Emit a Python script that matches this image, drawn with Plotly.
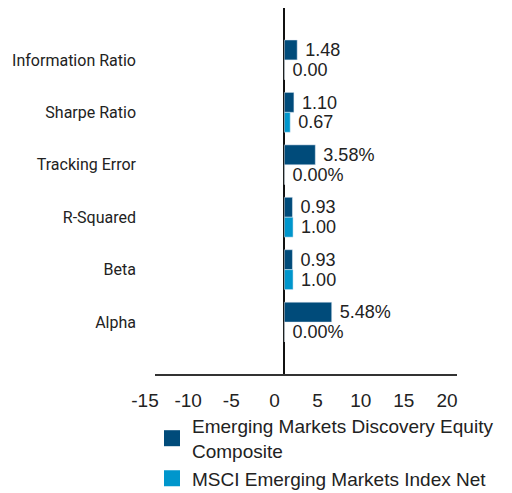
import plotly.graph_objects as go

categories = ["Information Ratio", "Sharpe Ratio", "Tracking Error", "R-Squared", "Beta", "Alpha"]
composite = [1.48, 1.10, 3.58, 0.93, 0.93, 5.48]
benchmark = [0.00, 0.67, 0.00, 1.00, 1.00, 0.00]
composite_text = ["1.48", "1.10", "3.58%", "0.93", "0.93", "5.48%"]
benchmark_text = ["0.00", "0.67", "0.00%", "1.00", "1.00", "0.00%"]
series_names = ["Emerging Markets Discovery Equity<br>Composite", "MSCI Emerging Markets Index Net"]
x_ticks = [-15, -10, -5, 0, 5, 10, 15, 20]

dark = "#004B7A"
light = "#0096CC"
font_family = "Liberation Sans, Arial, sans-serif"

# the page body has an 8px margin, so the figure is sized to fit the visible window
W, H = 504, 485

fig = go.Figure()
for vals, txt, col, name in [(composite, composite_text, dark, series_names[0]),
                              (benchmark, benchmark_text, light, series_names[1])]:
    fig.add_trace(go.Bar(
        y=categories, x=vals, orientation="h", marker_color=col,
        text=["\u00a0" + t for t in txt], textposition="outside", cliponaxis=False,
        textfont=dict(size=19, color="#222222", family=font_family),
        showlegend=False, name=name,
    ))
    fig.add_trace(go.Scatter(
        x=[None], y=[None], mode="markers", name=name,
        marker=dict(symbol="square", size=19, color=col),
    ))

fig.update_layout(
    width=W, height=H,
    margin=dict(l=147, r=55, t=0, b=119, autoexpand=False),
    paper_bgcolor="white", plot_bgcolor="white",
    barmode="group", bargap=0.24, bargroupgap=0,
    font=dict(family=font_family, color="#222222"),
    legend=dict(x=144 / W, y=1 - 399 / H, xref="container", yref="container",
                xanchor="left", yanchor="top",
                font=dict(size=19, family=font_family, color="#222222"),
                itemsizing="trace", tracegroupgap=0),
)
fig.update_xaxes(
    range=[-15, 20], tickvals=x_ticks, ticktext=[str(v) for v in x_ticks],
    showgrid=False, zeroline=True, zerolinecolor="#111111", zerolinewidth=1.5,
    showline=True, linecolor="#333333", linewidth=2, automargin=False,
    tickfont=dict(size=19, family=font_family, color="#222222"),
    ticklabelshift=-10, ticklabelstandoff=8,
)
fig.update_yaxes(
    range=[5.99, -0.99], showgrid=False, zeroline=False, showline=False, automargin=False,
    tickfont=dict(size=16, family="Roboto, sans-serif", color="#222222"),
    ticklabelstandoff=18,
)
fig.write_html("out.html")
